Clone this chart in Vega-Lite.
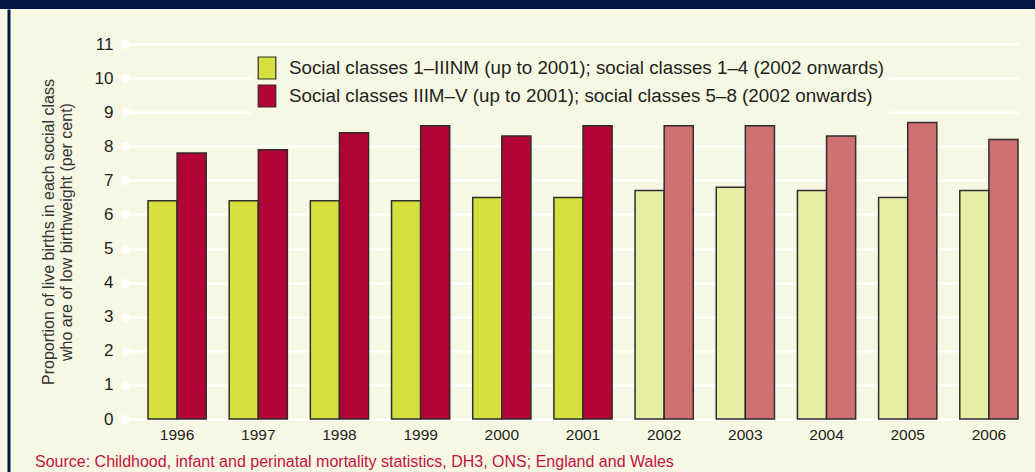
{
  "$schema": "https://vega.github.io/schema/vega-lite/v6.json",
  "autosize": {"type": "none"},
  "padding": {"left": 0, "top": 0, "right": 0, "bottom": 463},
  "width": 1035,
  "height": 9,
  "background": "#F7F8E4",
  "config": {
    "view": {"fill": "#011546", "stroke": null},
    "font": "Liberation Sans"
  },
  "title": {
    "text": "Source: Childhood, infant and perinatal mortality statistics, DH3, ONS; England and Wales",
    "orient": "bottom",
    "anchor": "start",
    "frame": "group",
    "offset": -18,
    "dx": 35,
    "fontSize": 16,
    "fontWeight": "normal",
    "color": "#C4123F",
    "font": "Liberation Sans"
  },
  "data": {
    "values": [
      {"year": "1996", "cls": 1, "series": "A", "value": 6.4},
      {"year": "1996", "cls": 2, "series": "B", "value": 7.8},
      {"year": "1997", "cls": 1, "series": "A", "value": 6.4},
      {"year": "1997", "cls": 2, "series": "B", "value": 7.9},
      {"year": "1998", "cls": 1, "series": "A", "value": 6.4},
      {"year": "1998", "cls": 2, "series": "B", "value": 8.4},
      {"year": "1999", "cls": 1, "series": "A", "value": 6.4},
      {"year": "1999", "cls": 2, "series": "B", "value": 8.6},
      {"year": "2000", "cls": 1, "series": "A", "value": 6.5},
      {"year": "2000", "cls": 2, "series": "B", "value": 8.3},
      {"year": "2001", "cls": 1, "series": "A", "value": 6.5},
      {"year": "2001", "cls": 2, "series": "B", "value": 8.6},
      {"year": "2002", "cls": 1, "series": "A2", "value": 6.7},
      {"year": "2002", "cls": 2, "series": "B2", "value": 8.6},
      {"year": "2003", "cls": 1, "series": "A2", "value": 6.8},
      {"year": "2003", "cls": 2, "series": "B2", "value": 8.6},
      {"year": "2004", "cls": 1, "series": "A2", "value": 6.7},
      {"year": "2004", "cls": 2, "series": "B2", "value": 8.3},
      {"year": "2005", "cls": 1, "series": "A2", "value": 6.5},
      {"year": "2005", "cls": 2, "series": "B2", "value": 8.7},
      {"year": "2006", "cls": 1, "series": "A2", "value": 6.7},
      {"year": "2006", "cls": 2, "series": "B2", "value": 8.2}
    ]
  },
  "layer": [
    {
      "mark": {"type": "bar", "stroke": "#2E2E2E", "strokeWidth": 1.5},
      "encoding": {
        "x": {
          "field": "year",
          "type": "nominal",
          "scale": {"range": [125, 1018], "paddingInner": 0.283, "paddingOuter": 0.1416, "align": 1},
          "axis": {
            "title": null,
            "orient": "bottom",
            "offset": 410,
            "domain": false,
            "ticks": false,
            "labelAngle": 0,
            "labelPadding": 8,
            "labelFontSize": 15.5,
            "labelColor": "#231F20",
            "grid": false
          }
        },
        "xOffset": {"field": "cls", "type": "nominal", "scale": {"paddingInner": 0, "paddingOuter": 0}},
        "y": {
          "field": "value",
          "type": "quantitative",
          "scale": {"domain": [0, 11], "range": [419, 44], "nice": false},
          "axis": {
            "title": ["Proportion of live births in each social class", "who are of low birthweight (per cent)"],
            "titleFontSize": 16,
            "titleFontWeight": "normal",
            "titleColor": "#333333",
            "titleLineHeight": 17.5,
            "titlePadding": 20,
            "orient": "left",
            "offset": -125,
            "values": [0, 1, 2, 3, 4, 5, 6, 7, 8, 9, 10, 11],
            "domain": false,
            "grid": true,
            "gridColor": "#FFFFFF",
            "gridWidth": 2,
            "gridOpacity": 1,
            "ticks": true,
            "tickColor": "#FFFFFF",
            "tickWidth": 9,
            "tickCap": "round",
            "tickSize": 0,
            "labelPadding": 12,
            "labelFontSize": 17,
            "labelColor": "#231F20"
          }
        },
        "color": {
          "field": "series",
          "type": "nominal",
          "scale": {"domain": ["A", "B", "A2", "B2"], "range": ["#D5DF3D", "#B10336", "#E8EDA4", "#CF7171"]},
          "legend": {
            "title": null,
            "values": ["A", "B"],
            "orient": "none",
            "legendX": 251,
            "legendY": 52,
            "padding": 4,
            "fillColor": "#F7F8E4",
            "symbolType": "M-0.8,-1L0.8,-1L0.8,1L-0.8,1Z",
            "symbolSize": 484,
            "symbolStrokeColor": "#2E2E2E",
            "symbolStrokeWidth": 1.2,
            "symbolOpacity": 1,
            "labelFontSize": 18.8,
            "labelColor": "#231F20",
            "labelOffset": 10,
            "rowPadding": 0,
            "labelLimit": 800,
            "labelExpr": "datum.value == 'A' ? 'Social classes 1–IIINM (up to 2001); social classes 1–4 (2002 onwards)' : 'Social classes IIIM–V (up to 2001); social classes 5–8 (2002 onwards)'"
          }
        }
      }
    },
    {
      "mark": {"type": "bar", "opacity": 0},
      "encoding": {
        "x": {"field": "year", "type": "nominal"},
        "xOffset": {"field": "cls", "type": "nominal"},
        "y": {
          "field": "value",
          "type": "quantitative",
          "scale": {"domain": [0, 11], "range": [472, 9], "nice": false},
          "axis": {
            "orient": "left",
            "offset": -8.5,
            "title": null,
            "domain": true,
            "domainColor": "#011546",
            "domainWidth": 3,
            "ticks": false,
            "labels": false,
            "grid": false
          }
        }
      }
    }
  ],
  "resolve": {"scale": {"y": "independent"}, "axis": {"y": "independent"}}
}
